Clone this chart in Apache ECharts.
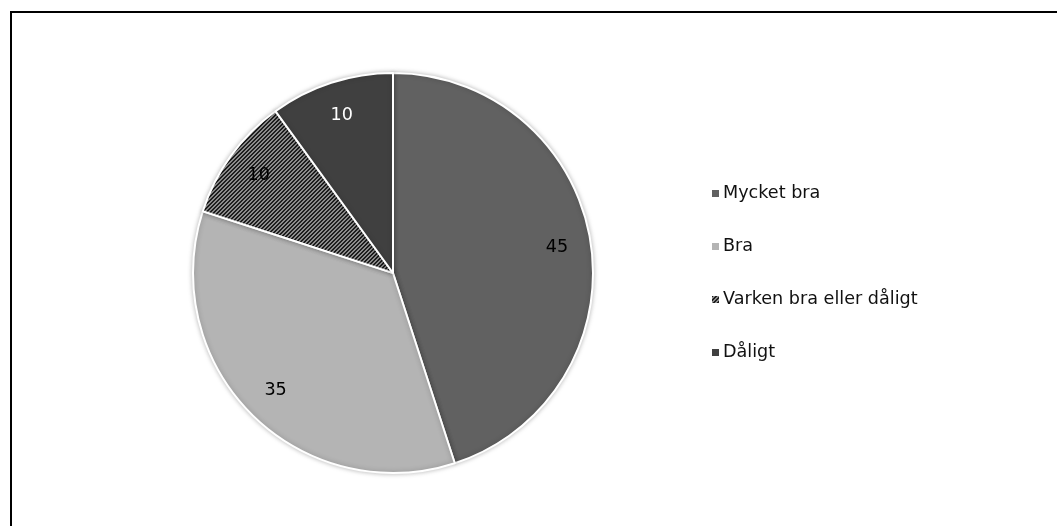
<!DOCTYPE html>
<html><head><meta charset="utf-8">
<style>html,body{margin:0;padding:0;background:#fff}#c{width:1057px;height:526px}</style>
<script src="https://cdn.jsdelivr.net/npm/echarts@6/dist/echarts.min.js"></script>
</head><body><div id="c"></div>
<script>
const categories = ['Mycket bra', 'Bra', 'Varken bra eller dåligt', 'Dåligt'];
const values = [45, 35, 10, 10];
const labelColors = ['#000', '#000', '#000', '#fff'];

// hatch pattern
const pc = document.createElement('canvas');
pc.width = 4; pc.height = 4;
const g = pc.getContext('2d');
g.fillStyle = '#1e1e1e'; g.fillRect(0,0,4,4);
g.fillStyle = '#8c8c8c';
for (let i = 0; i < 4; i++) { g.fillRect(i, 3 - i, 1, 1); g.fillRect(i, (4 - i) % 4, 1, 1); }
const hatch = {image: pc, repeat: 'repeat'};
const colors = ['#616161', '#b4b4b4', hatch, '#404040'];

const chart = echarts.init(document.getElementById('c'));
const data = categories.map((n, i) => ({name: n, value: values[i], itemStyle: {color: colors[i]}}));
const labelData = categories.map((n, i) => ({name: n, value: values[i], label: {color: labelColors[i]}}));
chart.setOption({
  animation: false,
  graphic: [{type: 'rect', shape: {x: 11, y: 12, width: 1100, height: 600}, style: {fill: 'none', stroke: '#000', lineWidth: 2}, silent: true}],
  legend: {
    orient: 'vertical', left: 705, top: 178, itemWidth: 9, itemHeight: 9, itemGap: 32, icon: 'rect',
    textStyle: {fontFamily: 'DejaVu Sans', fontSize: 17.6, color: '#111', lineHeight: 21, padding: [0,0,0,-2]},
    data: categories
  },
  series: [
    {type: 'pie', center: [393, 273], radius: [0, 200], startAngle: 90, clockwise: true,
     itemStyle: {borderColor: '#fff', borderWidth: 2, shadowBlur: 5, shadowColor: 'rgba(0,0,0,0.25)'},
     label: {show: false}, labelLine: {show: false}, emphasis: {disabled: true}, data: data},
    {type: 'pie', center: [393, 273], radius: [126, 200], startAngle: 90, clockwise: true, silent: true,
     itemStyle: {color: 'rgba(0,0,0,0)', borderWidth: 0},
     label: {show: true, position: 'inside', formatter: '{c}', fontFamily: 'DejaVu Sans', fontSize: 17.6},
     labelLine: {show: false}, emphasis: {disabled: true}, data: labelData}
  ]
});
</script></body></html>
